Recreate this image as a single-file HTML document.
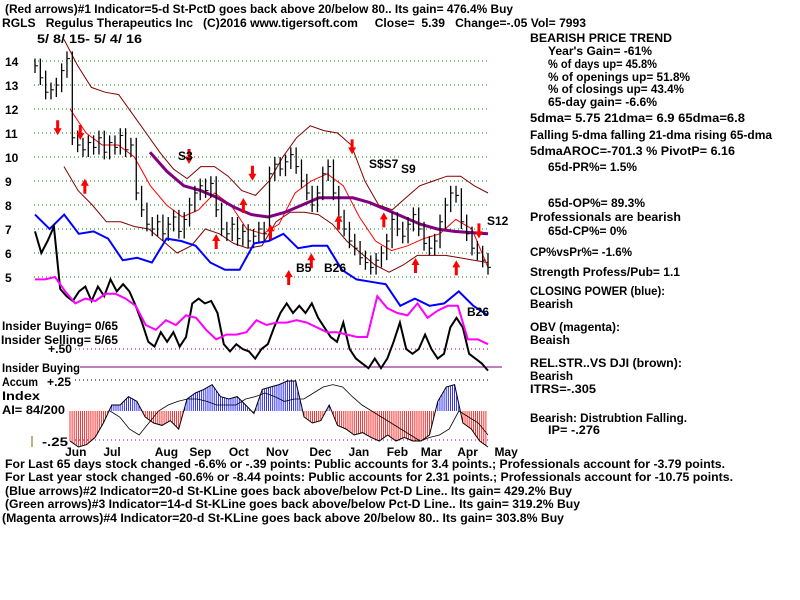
<!DOCTYPE html>
<html><head><meta charset="utf-8"><style>
body{margin:0;background:#fff}
svg{display:block}
text{font-family:"Liberation Sans",sans-serif;font-weight:bold;font-size:12px;fill:#000}
</style></head><body>
<svg id="c" width="800" height="600" viewBox="0 0 800 600">
<g id="txt">
<text x="5" y="13" textLength="508" lengthAdjust="spacingAndGlyphs">(Red arrows)#1 Indicator=5-d St-PctD goes back above 20/below 80.. Its gain= 476.4% Buy</text>
<text x="2" y="27" textLength="584" lengthAdjust="spacingAndGlyphs" xml:space="preserve">RGLS   Regulus Therapeutics Inc   (C)2016 www.tigersoft.com     Close=  5.39   Change=-.05 Vol= 7993</text>
<text x="37" y="43" textLength="105" lengthAdjust="spacingAndGlyphs">5/ 8/ 15- 5/ 4/ 16</text>
</g>
<g>
<text x="530" y="42" textLength="142" lengthAdjust="spacingAndGlyphs">BEARISH PRICE TREND</text>
<text x="548" y="55" textLength="104" lengthAdjust="spacingAndGlyphs">Year's Gain= -61%</text>
<text x="548" y="68" textLength="109" lengthAdjust="spacingAndGlyphs">% of days up= 45.8%</text>
<text x="548" y="81" textLength="142" lengthAdjust="spacingAndGlyphs">% of openings up= 51.8%</text>
<text x="548" y="93" textLength="136" lengthAdjust="spacingAndGlyphs">% of closings up= 43.4%</text>
<text x="548" y="106" textLength="109" lengthAdjust="spacingAndGlyphs">65-day gain= -6.6%</text>
<text x="530" y="122" textLength="215" lengthAdjust="spacingAndGlyphs">5dma= 5.75 21dma= 6.9 65dma=6.8</text>
<text x="530" y="139" textLength="242" lengthAdjust="spacingAndGlyphs">Falling 5-dma falling 21-dma rising 65-dma</text>
<text x="530" y="155" textLength="205" lengthAdjust="spacingAndGlyphs">5dmaAROC=-701.3 %  PivotP= 6.16</text>
<text x="548" y="171" textLength="89" lengthAdjust="spacingAndGlyphs">65d-PR%= 1.5%</text>
<text x="548" y="207" textLength="97" lengthAdjust="spacingAndGlyphs">65d-OP%= 89.3%</text>
<text x="530" y="221" textLength="151" lengthAdjust="spacingAndGlyphs">Professionals are bearish</text>
<text x="548" y="235" textLength="79" lengthAdjust="spacingAndGlyphs">65d-CP%= 0%</text>
<text x="530" y="256" textLength="102" lengthAdjust="spacingAndGlyphs">CP%vsPr%= -1.6%</text>
<text x="530" y="276" textLength="150" lengthAdjust="spacingAndGlyphs">Strength Profess/Pub= 1.1</text>
<text x="530" y="295" textLength="135" lengthAdjust="spacingAndGlyphs">CLOSING POWER (blue):</text>
<text x="530" y="308" textLength="43" lengthAdjust="spacingAndGlyphs">Bearish</text>
<text x="530" y="331" textLength="90" lengthAdjust="spacingAndGlyphs">OBV (magenta):</text>
<text x="530" y="344" textLength="40" lengthAdjust="spacingAndGlyphs">Beaish</text>
<text x="530" y="367" textLength="152" lengthAdjust="spacingAndGlyphs">REL.STR..VS DJI (brown):</text>
<text x="530" y="380" textLength="43" lengthAdjust="spacingAndGlyphs">Bearish</text>
<text x="530" y="393" textLength="66" lengthAdjust="spacingAndGlyphs">ITRS=-.305</text>
<text x="530" y="422" textLength="157" lengthAdjust="spacingAndGlyphs">Bearish: Distrubtion Falling.</text>
<text x="548" y="434" textLength="52" lengthAdjust="spacingAndGlyphs">IP= -.276</text>
</g>
<g>
<text x="2" y="330" textLength="116" lengthAdjust="spacingAndGlyphs">Insider Buying= 0/65</text>
<text x="1" y="344" textLength="117" lengthAdjust="spacingAndGlyphs">Insider Selling= 5/65</text>
<text x="48" y="353" textLength="24" lengthAdjust="spacingAndGlyphs">+.50</text>
<text x="2" y="372" textLength="78" lengthAdjust="spacingAndGlyphs">Insider Buying</text>
<text x="2" y="386" textLength="36" lengthAdjust="spacingAndGlyphs">Accum</text>
<text x="47" y="386" textLength="24" lengthAdjust="spacingAndGlyphs">+.25</text>
<text x="2" y="400" textLength="38" lengthAdjust="spacingAndGlyphs">Index</text>
<text x="2" y="414" textLength="63" lengthAdjust="spacingAndGlyphs">AI= 84/200</text>
<text x="42" y="446" textLength="26" lengthAdjust="spacingAndGlyphs">-.25</text>
</g>
<g>
<text x="5" y="468" textLength="720" lengthAdjust="spacingAndGlyphs">For Last 65 days stock changed -6.6% or -.39 points:  Public accounts for  3.4 points.;  Professionals account for -3.79 points.</text>
<text x="5" y="481" textLength="728" lengthAdjust="spacingAndGlyphs">For Last year stock changed -60.6% or -8.44 points:  Public accounts for  2.31 points.;  Professionals account for -10.75 points.</text>
<text x="5" y="495" textLength="567" lengthAdjust="spacingAndGlyphs">(Blue arrows)#2 Indicator=20-d St-KLine goes back above/below Pct-D Line.. Its gain= 429.2% Buy</text>
<text x="5" y="508" textLength="575" lengthAdjust="spacingAndGlyphs">(Green arrows)#3 Indicator=14-d St-KLine goes back above/below Pct-D Line.. Its gain= 319.2% Buy</text>
<text x="2" y="522" textLength="562" lengthAdjust="spacingAndGlyphs">(Magenta arrows)#4 Indicator=20-d St-KLine goes back above 20/below 80.. Its gain= 303.8% Buy</text>
</g>
<g id="plot"></g>
</svg>
<script>
const priceTicks=[14,13,12,11,10,9,8,7,6,5];
const months=["Jun","Jul","Aug","Sep","Oct","Nov","Dec","Jan","Feb","Mar","Apr","May"];
const monthPos=[0.09,0.17,0.29,0.365,0.45,0.535,0.63,0.715,0.8,0.875,0.955,1.04];
const closes=[13.8,13.3,12.7,12.8,13.0,13.6,14.1,10.8,10.5,10.3,10.6,10.4,10.8,10.2,10.6,10.4,10.9,10.3,10.5,8.5,7.8,7.2,7.0,7.3,6.8,7.2,7.5,6.9,7.4,8.0,8.5,8.8,8.6,8.9,7.8,7.0,6.8,7.2,6.6,6.9,6.5,6.7,7.0,6.8,9.3,9.7,9.5,9.8,10.1,9.6,9.0,8.5,8.0,8.5,9.3,9.6,8.5,7.5,7.0,6.5,6.2,5.8,5.6,5.4,5.7,6.0,6.5,7.4,7.0,6.7,7.2,7.6,7.0,6.4,6.2,6.5,7.3,8.0,8.5,8.4,7.3,6.8,6.2,6.0,5.7,5.4];
const upperBand=[14.9,13.8,12.9,12.7,12.6,11.8,11.0,10.2,9.5,9.1,9.6,9.6,9.2,8.6,8.4,9.0,10.0,10.8,11.3,11.1,11.0,10.5,9.0,8.0,7.8,8.3,8.8,9.0,9.2,9.2,8.8,8.5];
const lowerBand=[9.6,8.6,8.0,7.3,7.3,7.1,7.0,6.5,6.0,6.3,7.0,6.8,6.4,6.2,6.3,7.3,7.7,7.7,7.6,7.2,6.5,6.0,5.5,5.2,5.5,5.9,5.9,5.9,5.8,5.7,5.6];
const ma21=[12.0,11.0,10.5,10.5,10.0,8.8,8.0,7.5,7.8,8.5,8.0,7.0,6.8,7.2,8.5,9.0,9.3,8.8,7.5,6.5,6.1,6.3,6.6,6.8,7.4,7.0,5.4];
const ma65=[10.2,9.4,8.8,8.6,8.3,7.9,7.6,7.5,7.7,8.0,8.3,8.3,8.3,8.1,7.8,7.5,7.2,7.0,6.9,6.85,6.8];
const closingPower=[7.6,7.0,7.6,6.8,6.9,6.6,5.7,5.8,5.6,6.6,6.5,6.3,5.6,5.3,5.3,6.4,6.5,6.8,6.2,6.3,6.3,5.3,4.9,4.8,4.7,3.8,4.1,3.8,3.9,4.4,3.8,3.4];
const relStr=[6.9,6.0,6.5,7.1,4.5,4.2,4.0,4.4,4.6,4.0,4.6,4.2,4.9,4.4,4.7,4.4,3.8,3.1,2.3,2.1,2.7,2.3,2.7,2.1,2.5,3.9,4.1,3.9,4.0,3.5,2.2,1.9,2.2,2.0,1.9,1.6,2.0,2.2,2.9,3.5,3.9,3.5,3.8,3.5,3.9,3.3,2.9,2.5,2.3,3.1,2.0,1.6,1.4,1.2,1.6,1.2,1.6,2.3,3.1,2.0,1.8,2.0,2.6,2.0,1.6,1.8,2.9,3.3,2.9,1.8,1.6,1.4,1.1];
const obv=[4.9,4.9,5.0,4.4,3.9,4.1,4.0,4.3,4.3,4.1,3.8,3.0,2.8,3.2,3.0,3.4,3.3,2.8,2.4,2.6,2.6,2.7,3.2,3.0,3.1,3.1,3.2,3.1,2.9,2.7,2.7,2.6,2.5,2.5,4.2,3.7,3.5,3.4,3.9,3.3,3.6,3.8,3.8,2.4,2.4,2.2];
const accum=[-0.25,-0.3,-0.28,-0.22,-0.1,0.05,0.05,0.12,0.08,-0.05,-0.1,-0.12,-0.08,-0.15,0.1,0.15,0.18,0.22,0.12,0.1,0.12,0.05,-0.02,0.18,0.2,0.22,0.25,0.25,-0.05,-0.1,-0.08,0.05,-0.12,-0.15,-0.2,-0.18,-0.22,-0.25,-0.2,-0.25,-0.22,-0.25,-0.25,-0.2,0.08,0.2,0.22,-0.1,-0.15,-0.25,-0.3];
const accumMA=[0,-0.05,-0.15,-0.2,-0.1,0,0.05,0.08,0.1,0.1,0.08,0.05,0.05,0.05,0.1,0.12,0.15,0.12,0.08,0.1,0.1,0.15,0.2,0.22,0.2,0.12,0.05,0,-0.05,-0.1,-0.15,-0.2,-0.25,-0.22,-0.2,-0.15,0,-0.05,-0.1,-0.2];
const signals=[["S3",178,160],["S$S7",369,168],["S9",401,173],["S12",487,225],["B5",296,272],["B26",324,272],["B26",467,316]];
const arrowX=[0.34,0.48,0.11,0.05,0.52,0.7,0.98,0.1,0.4,0.46,0.56,0.61,0.67,0.84,0.93,0.77];
const arrowP=[10.0,9.3,8.8,11.2,6.9,10.4,6.9,11.0,6.5,8.0,5.0,5.7,7.3,5.5,5.4,7.4];
const arrowUp=[0,0,1,0,1,0,0,0,1,1,1,1,1,1,1,1];

const NS="http://www.w3.org/2000/svg";
const plot=document.getElementById('plot');
const X0=35,X1=488;
function Y(p){return 61+(14-p)*24;}
function AY(v){return 411-v*120;}
function xs(n,i,a,b){return a+(b-a)*i/(n-1);}
function mk(t,attrs){const e=document.createElementNS(NS,t);for(const k in attrs)e.setAttribute(k,attrs[k]);plot.appendChild(e);return e;}
priceTicks.forEach(p=>{
 const g=mk('line',{x1:34,x2:490,y1:Y(p),y2:Y(p),stroke:'#008000','stroke-dasharray':'1 3'});
 
 
 const t=mk('text',{x:5,y:Y(p)+5,'font-size':'13'});t.textContent=String(p);
 
 
});
[[349,'#800080'],[380,'#000'],[440,'#800080']].forEach(r=>{
 const l=mk('line',{x1:75,x2:490,y1:r[0],y2:r[0],stroke:r[1],'stroke-dasharray':'1 3'});
 
 
});
const ib=mk('line',{x1:80,x2:502,y1:367,y2:367,stroke:'#800080'});


const yl=mk('line',{x1:32,x2:32,y1:436,y2:447,stroke:'#806000'});


months.forEach((m,i)=>{
 const t=mk('text',{x:X0+(X1-X0)*monthPos[i],y:456,'text-anchor':'middle','font-size':'13'});t.textContent=m;
 
 
});
function line(arr,a,b,fy,col,w,name,dash){
 const pts=arr.map((v,i)=>xs(arr.length,i,a,b).toFixed(1)+','+fy(v).toFixed(1)).join(' ');
 const e=mk('polyline',{points:pts,fill:'none',stroke:col,'stroke-width':w});
 if(dash)e.setAttribute('stroke-dasharray',dash);
 
 
}
const n=accum.length;
for(let k=0;k<n-1;k++){
 for(let s=0;s<4;s++){
  const x=xs(n,k,70,488)+s*(418/(n-1))/4;
  const v=accum[k]+(accum[k+1]-accum[k])*s/4;
  const b=mk('line',{x1:x,x2:x,y1:411,y2:AY(v),stroke:v>=0?'#0000ff':'#ff0000','stroke-width':0.8});
  
  
 }
}
line(accum,70,488,AY,'#000',1,'accum-outline');
line(accumMA,110,488,AY,'#000',0.8,'accum-ma');
line(upperBand,64,488,Y,'#800000',1,'upper-band');
line(lowerBand,64,488,Y,'#800000',1,'lower-band');
line(ma21,70,488,Y,'#ff0000',1,'ma21-line');
line(ma65,150,488,Y,'#800080',3,'ma65-line');
const m=closes.length;
for(let i=0;i<m;i++){
 const x=xs(m,i,X0,X1);const prev=i?closes[i-1]:closes[i];
 const hi=Math.max(prev,closes[i])+0.3,lo=Math.min(prev,closes[i])-0.3;
 const b=mk('line',{x1:x,x2:x,y1:Y(hi),y2:Y(lo),stroke:'#000','stroke-width':1.3});
 
 
 const t=mk('line',{x1:x,x2:x+3,y1:Y(closes[i]),y2:Y(closes[i]),stroke:'#000'});
 
 
}
line(closingPower,35,488,Y,'#0000ff',2,'closing-power-line');
line(relStr,35,488,Y,'#000',2,'relative-strength-line');
line(obv,35,488,Y,'#ff00ff',2,'obv-line');
arrowX.forEach((f,i)=>{
 const x=X0+(X1-X0)*f,y=Y(arrowP[i]);
 const d=arrowUp[i]?`M${x-4},${y} L${x},${y-7} L${x+4},${y} L${x+1.5},${y} L${x+1.5},${y+8} L${x-1.5},${y+8} L${x-1.5},${y} Z`
  :`M${x-4},${y} L${x},${y+7} L${x+4},${y} L${x+1.5},${y} L${x+1.5},${y-8} L${x-1.5},${y-8} L${x-1.5},${y} Z`;
 const a=mk('path',{d:d,fill:'#ff0000'});
 
 
});
signals.forEach(s=>{
 const t=mk('text',{x:s[1],y:s[2],'font-size':'14'});t.textContent=s[0];
 
 
});
</script>
</body></html>
